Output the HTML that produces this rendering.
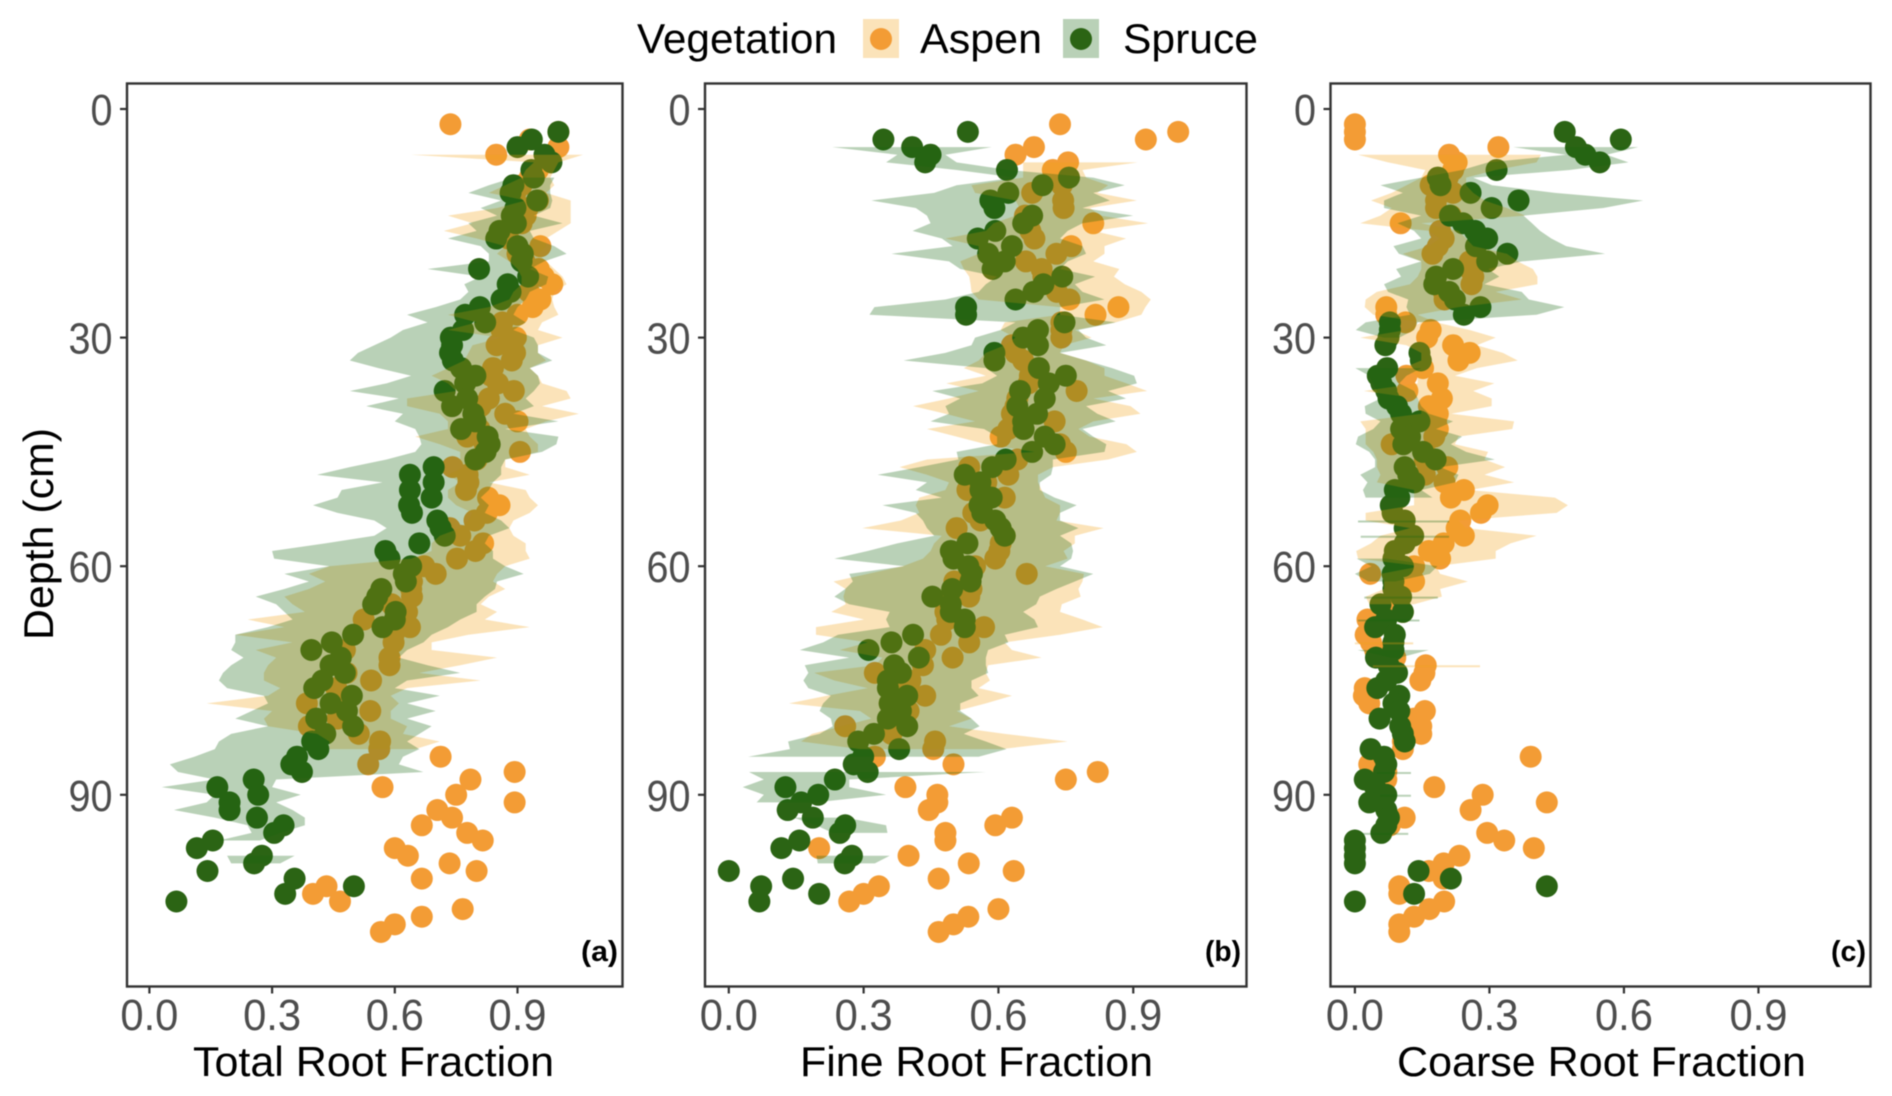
<!DOCTYPE html>
<html lang="en">
<head>
<meta charset="utf-8">
<title>Root fraction by depth</title>
<style>
html,body{margin:0;padding:0;background:#fff;width:1892px;height:1096px;overflow:hidden}
svg{display:block;filter:blur(0.4px)}
text{font-family:"Liberation Sans",sans-serif}
</style>
</head>
<body>
<svg id="chart" xmlns="http://www.w3.org/2000/svg" width="1892" height="1096" viewBox="0 0 1892 1096">
  <rect x="0" y="0" width="1892" height="1096" fill="#fff"/>
  <g>
    <text x="637" y="53" font-size="41.5" textLength="200" lengthAdjust="spacingAndGlyphs" fill="#000">Vegetation</text>
    <rect x="863" y="19" width="36" height="39" fill="#fbe3b9"/>
    <circle cx="881" cy="39" r="11" fill="#f39c35"/>
    <text x="920" y="53" font-size="41.5" textLength="122" lengthAdjust="spacingAndGlyphs" fill="#000">Aspen</text>
    <rect x="1063" y="19" width="36" height="39" fill="#b9d1b7"/>
    <circle cx="1081" cy="39" r="11" fill="#2b6414"/>
    <text x="1123" y="53" font-size="41.5" textLength="135" lengthAdjust="spacingAndGlyphs" fill="#000">Spruce</text>
  </g>
  <text transform="translate(53,534) rotate(-90)" text-anchor="middle" font-size="41.5" textLength="212" lengthAdjust="spacingAndGlyphs" fill="#000">Depth (cm)</text>
</svg>
<script>
const xTicks = [0, 0.3, 0.6, 0.9];
const yTicks = [0, 30, 60, 90];

const aspenFirstDepth = 2;
const spruceFirstDepth = 3;

const totalAspen = [.736,1.0,.93,1.0,.848, .98,.95,.93,.91,.895, .95,.925,.92,.91,.86, .878,.956,.90,.917,.952, .964,.985,.928,.956,.937, .90,.863,.861,.896,.849, .894,.886,.84,.835,.852, .891,.83,.81,.87,.90, .807,.777,.82,.906,.80, .741,.778,.78,.774,.828, .856,.825,.795,.734,.76, .816,.797,.752, .672,.70,.642,.64,.642, .592,.63,.524,.637,.597, .597,.478,.587,.587,.482, .542,.457,.472,.385,.54, .46,.39,.512,.564,.562, .712,.535,.893,.785,.57, .75,.893,.704,.74,.666, .777,.815,.60,.632,.734, .80,.666,.433,.40,.466, .766,.666,.60,.566];
const totalSpruce = [1.0,.935,.90,.966,.983, .934,.94,.89,.883,.948, .895,.886,.896,.856,.848, .90,.913,.91,.806,.926, .876,.883,.861,.808,.772, .821,.767,.737,.74,.735, .742,.762,.797,.772,.722, .777,.74,.792,.797,.762, .827,.832,.822,.797,.695, .637,.695,.637,.69,.635, .642,.704,.712,.722,.66, .577,.587,.64,.622,.627, .567,.557,.547,.602,.60, .57,.498,.446,.396,.468, .443,.478,.423,.403,.495, .443,.483,.408,.498,.43, .398,.413,.361,.347,.373, .255,.166,.266,.196,.196, .263,.328,.305,.155,.116, .275,.256,.142,.355,.50, .332,.066];

const fineAspen = [.737,1.0,.928,.679,.638, .755,.721,.737,.741,.675, .744,.745,.659,.811,.671, .68,.762,.729,.661,.696, .70,.725,.73,.758,.867, .816,.74,.74,.74,.63, .638,.655,.69,.67,.667, .774,.642,.638,.63,.725, .622,.605,.737,.75,.642, .535,.622,.573,.531,.614, .564,.544,.56,.507,.614, .605,.602,.593,.548,.663, .502,.54,.535,.49,.482, .486,.568,.472,.535,.437, .498,.432,.325,.404,.375, .437,.358,.40,.387,.259, .362,.459,.455,.325,.50, .821,.75,.393,.464,.464, .445,.63,.593,.482,.482, .201,.40,.534,.634,.467, .334,.30,.268,.60,.533, .50,.467];
const fineSpruce = [.532,.344,.408,.449,.437, .619,.757,.698,.622,.582, .591,.675,.655,.593,.554, .63,.577,.614,.587,.742, .70,.678,.638,.528,.528, .747,.688,.655,.688,.591, .591,.69,.75,.712,.648, .703,.642,.686,.655,.656, .703,.725,.675,.616,.586, .525,.56,.56,.585,.558, .564,.593,.605,.614,.531, .494,.50,.533,.541,.538, .497,.453,.494,.494,.525, .525,.41,.362,.311,.423, .368,.383,.354,.354,.397, .358,.383,.354,.397,.323, .288,.379,.299,.278,.309, .236,.126,.199,.161,.131, .187,.259,.247,.157,.117, .274,.258,0,.143,.072, .201,.068];

const coarseAspen = [0,0,0,.32,.21, .227,.219,.207,.169,.219, .181,.181,.214,.102,.19, .198,.185,.173,.256,.256, .264,.26,.198,.20,.07, .07,.113,.169,.161,.219, .256,.231,.152,.115,.185, .117,.194,.165,.185,.181, .185,.177,.082,.156,.156, .206,.156,.20,.243,.214, .296,.281,.235,.227,.243, .198,.165,.19,.132,.034, .132,.09,.09,.09,.107, .028,.045,.024,.036,.045, .09,.158,.155,.146,.022, .02,.032,.156,.132,.148, .148,.107,.107,.392,.032, .07,.07,.177,.285,.428, .258,.111,.078,.295,.333, .399,.233,.198,.165,.198, .099,.099,.199,.166,.132, .099,.099];
const coarseSpruce = [.468,.593,.493,.514,.546, .316,.185,.191,.258,.365, .305,.212,.241,.268,.295, .27,.34,.295,.219,.181, .177,.21,.223,.28,.243, .078,.078,.075,.068,.144, .147,.072,.051,.059,.07, .075,.094,.103,.144,.103, .123,.108,.152,.18,.111, .119,.132,.089,.099,.08, .084,.111,.111,.13,.111, .089,.086,.107,.084,.086, .086,.103,.057,.107,.07, .045,.089,.086,.086,.047, .075,.094,.07,.05,.099, .086,.099,.055,.101,.107, .111,.035,.065,.07,.065, .022,.045,.07,.032,.07, .076,.07,.059,0,0, 0,0,.142,.214,.428, .132,0];

const totalAspenBandFirstDepth = 6;
const totalAspenLow = [.64,.94,.92,.91,.87, .83,.92,.85,.73,.79, .72,.80,.87,.85,.88, .90,.91,.91,.89,.88, .83,.73,.80,.73,.86, .79,.78,.77,.73,.69, .73,.75,.63,.63,.71, .73,.73,.65,.71,.76, .76,.77,.73,.76,.73, .73,.75,.79,.78,.76, .71,.69,.69,.64,.44, .39,.43,.39,.33,.35, .38,.24,.33,.21,.35, .26,.31,.29,.28,.28, .32,.29,.14,.30,.28, .29,.41,.44,.44];
const totalAspenHigh = [1.06,1.0,.99,.98,.99, .97,1.03,1.03,1.03,1.03, 1.0,.97,.97,.95,.97, .99,1.01,1.02,.99,.985, .99,1.0,.96,.95,1.01, .95,.95,.97,.93,.95, .96,1.02,1.03,.96,1.05, .97,.92,.93,.95,.95, .87,.87,.93,.83,.92, .93,.95,.93,.89,.88, .89,.92,.92,.93,.87, .85,.84,.87,.83,.81, .85,.82,.93,.78,.69, .69,.85,.76,.66,.81, .63,.59,.61,.59,.59, .63,.62,.71,.65];
const totalSpruceBandFirstDepth = 9;
const totalSpruceLow = [.89,.83,.78,.86,.81, .85,.78,.80,.73,.81, .83,.83,.68,.81,.77, .78,.76,.70,.63,.68, .62,.59,.55,.51,.49, .56,.64,.58,.49,.61, .53,.62,.60,.65,.66, .665,.65,.58,.49,.41, .57,.47,.46,.40,.46, .55,.58,.55,.43,.30, .305,.44,.33,.39,.33, .26,.31,.33,.35,.29, .21,.21,.20,.23,.20, .18,.17,.19,.28,.29, .25,.21,.29,.20,.17, .16,.11,.05,.07,.16, .03,.16,.14,.06,.16, .24,.25,.17,null,.19, .20];
const totalSpruceHigh = [.99,.98,.98,.985,.98, .94,1.01,.93,.94,.99, 1.02,.965,.93,.975,.97, .93,.92,.90,.89,.92, .89,.94,.95,.95,.985, .93,.95,.955,.94,.92, .94,.89,1.0,.87,1.0, .995,.96,.87,.86,.86, .84,.83,.81,.83,.82, .86,.88,.83,.82,.84, .84,.87,.915,.85,.845, .82,.80,.80,.76,.73, .69,.67,.63,.61,.68, .76,.63,.60,.71,.63, .70,.63,.69,.66,.63, .66,.62,.61,.67,.31, .30,.37,.31,.35,.38, .38,.32,.27,null,.355, .32];

const fineAspenBandFirstDepth = 7;
const fineAspenLow = [.655,.655,.655,.54,.548, .638,.647,.638,.589,.572, .482,.556,.556,.515,.523, .535,.538,.54,.556,.737, .737,.614,.605,.638,.614, .572,.556,.523,.572,.484, .556,.49,.41,.482,.548, .441,.507,.572,.68,.441, .38,.441,.49,.482,.424, .416,.424,.383,.297,.474, .457,.449, .432,.387,.309,.233,.26, .255,.26,.228,.301,.194, .194,.309,.247,.342,.325, .19,.235,.309,.218,.134, .292,.317,.251,.185,.161, .292];
const fineAspenHigh = [.91,.787,.795,.844,.82, .908,.803,.828,.933,.811, .884,.836,.836,.811,.869, .857,.881,.918,.939,.927, .918,.861,.77,.807,.745, .737,.795,.836,.836,.885, .931,.811,.894,.916,.811, .778,.803,.885,.908,.844, .721,.688,.688,.696,.704, .737,.737,.729,.834,.77, .77,.745, .754,.704,.79,.787,.778, .783,.741,.737,.787,.832, .737,.614,.63,.696,.577, .572,.581,.556,.63,.572, .507,.54,.49,.614,.754, .606];
const fineSpruceBandFirstDepth = 5;
const fineSpruceLow = [.23,.375,.35,.507,.638, .507,.457,.317,.416,.441, .449,.409,.474,.498,.362, .49,.515,.597,.572,.556, .482,.324,.313,.638,.605, .548,.54,.482,.389,.572, .597,.564,.453,.515,.482, .49,.449,.568,.597,.597, .507,.511,.424,.331,.441, .416,.474,.342,.416,.432, .441,.457,.375,.309,.235, .391,.268,.276,.259,.235, .268,.358,.35,.358,.243, .21,.158,.268,.169,.177, .166,.177,.227,.21,.202, .227,.231,.202,.132,.136, .043,null,.045,.078,.031, .078,.062,null,.144,.194, .231,null,null,.195,.198];
const fineSpruceHigh = [.585,.482,.507,.622,.811, .881,.811,.848,.787,.90, .787,.754,.737,.787,.795, .754,.737,.815,.77,.787, .836,.737,.737,.861,.778, .795,.84,.737,.795,.853, .902,.908,.844,.884,.795, .82,.861,.787,.811,.84, .836,.721,.721,.717,.692, .692,.725,.774,.737,.737, .778,.737,.762,.766,.762, .737,.811,.77,.729,.692, .684,.655,.68,.688,.614, .622,.577,.572,.572,.577, .54,.54,.556,.515,.515, .54,.558,.523,.572,.618, .556,null,.572,.268,.268, .35,.194,null,.259,.35, .353,null,null,.358,.325];

const coarseAspenBandFirstDepth = 6;
const coarseAspenLow = [.007,.074,.157,.148,.115, .082,.036,.082,.057,.012, .165,.19,.165,.107,.148, .148,.14,.123,.049,.024, .022,.041,.148,.115,.012, .115,.148,.148,.107,.14, .14,.02,.14,.148,.148, .012,.024,.024,.024,.041, .049,.049,.057,.049,.132, .132,.132,.024,.024,.123, .057,.036,.003,.007, .148,.057,.065,.065,.024, .032,null,null,null,null, 0,null,null,.04];
const coarseAspenHigh = [.415,.405,.314,.248,.248, .264,.289,.339,.38,.148, .231,.248,.264,.339,.363, .397,.407,.407,.314,.372, .231,.14,.181,.256,.314, .272,.33,.363,.272,.223, .311,.264,.305,.305,.215, .355,.351,.231,.223,.297, .289,.335,.289,.355,.256, .446,.475,.45,.231,.248, .405,.347,.314,.314, .181,.19,.252,.19,.194, .132,null,null,null,null, .13,null,null,.279];
const coarseSpruceBandFirstDepth = 5;
const coarseSpruceLow = [.353,.471,.297,.239,.148, .057,.107,.065,.065,.148, .095,.132,.148,.086,.098, .148,.092,.103,.065,.074, .119,.115,.123,.024,.002, .065,null,null,null,.001, .032,.041,.049,.057,.022, .024,.057,.041,.007,.002, .032,.045,.045,.012,.028, .018,.024,null,null,.007, null,.013,null,null,.004, .037,0,.03,null,.021, null,null,.007,null,null, null,.006,.08,null,null, null,null,null,null,null, null,null,null,null,null, null,null,.049,null,null, .057,null,null,null,null, .016];
const coarseSpruceHigh = [.632,.561,.61,.479,.264, .306,.446,.643,.554,.376, .395,.413,.438,.471,.558, .372,.297,.322,.289,.372, .388,.467,.405,.14,.132, .099,null,null,null,.148, .115,.099,.132,.14,.148, .165,.219,.181,.239,.214, .248,.312,.19,.231,.223, .148,.173,null,null,.21, null,.21,null,null,.071, .184,.167,.09,null,.185, null,null,.144,null,null, null,.165,.10,null,null, null,null,null,null,null, null,null,null,null,null, null,null,.125,null,null, .125,null,null,null,null, .119];

const NS = 'http://www.w3.org/2000/svg';
const svg = document.getElementById('chart');
const ORANGE = '#f39c35', GREEN = '#2b6414';
const RIBBON_ORANGE = '#f2a216', RIBBON_GREEN = '#16660f';
const FRAME_TOP = 83.5, FRAME_BOTTOM = 986.5;

function yScale(depth) { return 109 + 7.62 * depth; }

function make(tag, attrs, parent) {
  const el = document.createElementNS(NS, tag);
  for (const k in attrs) el.setAttribute(k, attrs[k]);
  parent.appendChild(el);
  return el;
}

function drawPoints(group, xScale, firstDepth, values, color, kind) {
  values.forEach(function (v, i) {
    const c = make('circle', { cx: xScale(v), cy: yScale(firstDepth + i), r: 11, fill: color }, group);
    
    
  });
}

function drawBand(group, xScale, firstDepth, low, high, color, opacity, kind) {
  let seg = [];
  function flush() {
    if (!seg.length) return;
    const top = seg.map(function (r) { return xScale(r.lo) + ',' + yScale(r.d); });
    const bot = seg.slice().reverse().map(function (r) { return xScale(r.hi) + ',' + yScale(r.d); });
    if (seg.length === 1) {
      const r = seg[0];
      top.push(xScale(r.lo) + ',' + (yScale(r.d) + 2));
      bot.unshift(xScale(r.hi) + ',' + (yScale(r.d) + 2));
    }
    const p = make('polygon', { points: top.concat(bot).join(' '), fill: color, 'fill-opacity': opacity, stroke: 'none' }, group);
    
    
    seg = [];
  }
  low.forEach(function (lo, i) {
    const hi = high[i];
    if (lo === null || hi === null || hi === undefined) { flush(); return; }
    seg.push({ d: firstDepth + i, lo: lo, hi: hi });
  });
  flush();
}

function drawPanel(cfg) {
  const xScale = function (v) { return cfg.x0 + cfg.k * v; };
  const g = make('g', {}, svg);
  
  

  const pts = make('g', {}, g);
  
  
  drawPoints(pts, xScale, aspenFirstDepth, cfg.aspen, ORANGE, 'aspen');
  drawPoints(pts, xScale, spruceFirstDepth, cfg.spruce, GREEN, 'spruce');

  const bands = make('g', {}, g);
  
  
  drawBand(bands, xScale, cfg.aFirst, cfg.aLow, cfg.aHigh, RIBBON_ORANGE, 0.3, 'aspen');
  drawBand(bands, xScale, cfg.sFirst, cfg.sLow, cfg.sHigh, RIBBON_GREEN, 0.3, 'spruce');

  const frame = make('rect', { x: cfg.left, y: FRAME_TOP, width: cfg.right - cfg.left, height: FRAME_BOTTOM - FRAME_TOP, fill: 'none', stroke: '#333', 'stroke-width': 2.4 }, g);
  
  

  xTicks.forEach(function (t) {
    const tick = make('line', { x1: xScale(t), x2: xScale(t), y1: FRAME_BOTTOM, y2: FRAME_BOTTOM + 7, stroke: '#333', 'stroke-width': 2.2 }, g);
    
    
    const label = make('text', { x: xScale(t), y: 1030, 'text-anchor': 'middle', 'font-size': 44, fill: '#4d4d4d', textLength: 58, lengthAdjust: 'spacingAndGlyphs' }, g);
    
    
    label.textContent = t.toFixed(1);
  });
  yTicks.forEach(function (t) {
    const text = String(t);
    const label = make('text', { x: cfg.left - 14.5, y: yScale(t) + 16, 'text-anchor': 'end', 'font-size': 44, fill: '#4d4d4d', textLength: text.length * 22, lengthAdjust: 'spacingAndGlyphs' }, g);
    
    
    label.textContent = text;
    const tick = make('line', { x1: cfg.left - 7, x2: cfg.left, y1: yScale(t), y2: yScale(t), stroke: '#333', 'stroke-width': 2.2 }, g);
    
    
  });

  const title = make('text', { x: cfg.titleX, y: 1076, 'font-size': 41.5, fill: '#000', textLength: cfg.titleW, lengthAdjust: 'spacingAndGlyphs' }, g);
  
  
  title.textContent = cfg.title;

  const tag = make('text', { x: cfg.tagX, y: 961, 'font-size': 29, 'font-weight': 'bold', fill: '#000', textLength: cfg.tagW, lengthAdjust: 'spacingAndGlyphs' }, g);
  
  
  tag.textContent = cfg.tag;
}

drawPanel({ name: 'total-root-panel', left: 127, right: 622.5, x0: 149.4, k: 409,
  aspen: totalAspen, spruce: totalSpruce,
  aFirst: totalAspenBandFirstDepth, aLow: totalAspenLow, aHigh: totalAspenHigh,
  sFirst: totalSpruceBandFirstDepth, sLow: totalSpruceLow, sHigh: totalSpruceHigh,
  title: 'Total Root Fraction', titleX: 193, titleW: 361, tag: '(a)', tagX: 581, tagW: 37 });
drawPanel({ name: 'fine-root-panel', left: 705, right: 1246.5, x0: 728.8, k: 449.4,
  aspen: fineAspen, spruce: fineSpruce,
  aFirst: fineAspenBandFirstDepth, aLow: fineAspenLow, aHigh: fineAspenHigh,
  sFirst: fineSpruceBandFirstDepth, sLow: fineSpruceLow, sHigh: fineSpruceHigh,
  title: 'Fine Root Fraction', titleX: 800, titleW: 353, tag: '(b)', tagX: 1205, tagW: 36 });
drawPanel({ name: 'coarse-root-panel', left: 1330.5, right: 1870.5, x0: 1354.9, k: 448.4,
  aspen: coarseAspen, spruce: coarseSpruce,
  aFirst: coarseAspenBandFirstDepth, aLow: coarseAspenLow, aHigh: coarseAspenHigh,
  sFirst: coarseSpruceBandFirstDepth, sLow: coarseSpruceLow, sHigh: coarseSpruceHigh,
  title: 'Coarse Root Fraction', titleX: 1397, titleW: 409, tag: '(c)', tagX: 1831, tagW: 35 });
</script>
</body>
</html>
